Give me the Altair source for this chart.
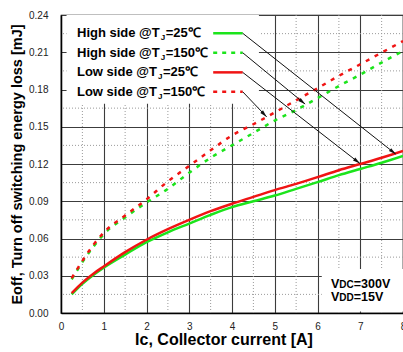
import math
import altair as alt
import pandas as pd

# ---------------- data ----------------
ic = [0.25, 0.5, 0.75, 1, 1.5, 2, 2.5, 3, 3.5, 4, 4.5, 5, 5.5, 6, 6.5, 7, 7.5, 8]
high_25 = [0.015, 0.0235, 0.0305, 0.0365, 0.047, 0.057, 0.065, 0.072, 0.079, 0.0853, 0.090,
           0.0946, 0.100, 0.1054, 0.111, 0.116, 0.121, 0.1265]
high_150 = [0.027, 0.041, 0.053, 0.0635, 0.077, 0.089, 0.100, 0.113, 0.125, 0.135, 0.145,
            0.155, 0.1635, 0.173, 0.1828, 0.192, 0.2017, 0.211]
low_25 = [0.016, 0.0245, 0.0315, 0.0375, 0.049, 0.059, 0.0675, 0.075, 0.082, 0.088, 0.0935,
          0.099, 0.104, 0.1094, 0.115, 0.120, 0.125, 0.1305]
low_150 = [0.028, 0.042, 0.0545, 0.0648, 0.0785, 0.0915, 0.106, 0.1185, 0.131, 0.143, 0.152,
           0.1615, 0.1713, 0.181, 0.191, 0.2003, 0.2097, 0.219]

series_values = [high_25, high_150, low_25, low_150]
legend_main = ["High side @T", "High side @T", "Low side @T", "Low side @T"]
legend_sub = ["J", "J", "J", "J"]
legend_suffix = ["=25\u2103", "=150\u2103", "=25\u2103", "=150\u2103"]
colors = ["#1be41b", "#1be41b", "#f01414", "#f01414"]
dashed = [False, True, False, True]

# arrow targets on the curves (data units)
arrow_end_x = [7.83, 5.71, 6.99, 4.81]
arrow_end_y = [0.128, 0.1683, 0.1205, 0.158]

x_ticks = [0, 1, 2, 3, 4, 5, 6, 7, 8]
y_ticks = [0.00, 0.03, 0.06, 0.09, 0.12, 0.15, 0.18, 0.21, 0.24]
x_minor = [0.5, 1.5, 2.5, 3.5, 4.5, 5.5, 6.5, 7.5]
y_minor = [0.015, 0.045, 0.075, 0.105, 0.135, 0.165, 0.195, 0.225]

x_title = "Ic, Collector current [A]"
y_title = "Eoff, Turn off switching energy loss [mJ]"
cond_main = ["V", "V"]
cond_small = ["DC", "DD"]
cond_rest = ["=300V", "=15V"]

# ---------------- layout ----------------
W, H = 342, 298
XS = W / 8.0
YS = H / 0.24
legend_y = [0.2253, 0.2096, 0.1938, 0.1782]
sample_x0, sample_x1 = 3.56, 4.25
text_x = 0.374
sub_x = [2.335, 2.335, 2.27, 2.27]
suf_x = [2.45, 2.45, 2.385, 2.385]
cond_x = 6.316
cond_y = [0.0201, 0.0093]

xs = alt.Scale(domain=[0, 8], nice=False, zero=False)
ys = alt.Scale(domain=[0, 0.24], nice=False, zero=False)

xaxis = alt.Axis(values=x_ticks, format="d", grid=True, gridColor="#3c3c3c", gridWidth=1.1,
                 domainColor="#000000", domainWidth=1.5, tickSize=0,
                 labelFont="Liberation Sans", labelFontSize=10, labelColor="#222222",
                 labelPadding=8, labelFlush=False,
                 title=x_title, titleFont="Liberation Sans", titleFontSize=16,
                 titleFontWeight="bold", titleColor="#000000", titleX=162.5, titleY=31,
                 titleBaseline="alphabetic", titleAlign="center")
yaxis = alt.Axis(values=y_ticks, format=".2f", grid=True, gridColor="#3c3c3c", gridWidth=1.1,
                 domainColor="#000000", domainWidth=1.5, tickSize=0,
                 labelFont="Liberation Sans", labelFontSize=10, labelColor="#222222",
                 labelPadding=13, labelFlush=False,
                 title=y_title, titleFont="Liberation Sans", titleFontSize=14.5,
                 titleFontWeight="bold", titleColor="#000000", titleX=-40, titleY=149,
                 titleAngle=270, titleBaseline="alphabetic", titleAlign="center")


def X(f):
    return alt.X(f, type="quantitative", scale=xs, axis=xaxis)


def Y(f):
    return alt.Y(f, type="quantitative", scale=ys, axis=yaxis)


layers = []

# minor dotted grid
layers.append(alt.Chart(pd.DataFrame({"v": x_minor})).mark_rule(
    color="#9a9a9a", strokeDash=[1, 2], strokeWidth=1).encode(x=X("v")))
layers.append(alt.Chart(pd.DataFrame({"v": y_minor})).mark_rule(
    color="#9a9a9a", strokeDash=[1, 2], strokeWidth=1).encode(y=Y("v")))

# white boxes behind legend and conditions
boxes = pd.DataFrame({"x0": [0.13, 6.1], "x1": [4.63, 8.0],
                      "y0": [0.1685, 0.0012], "y1": [0.24, 0.0355]})
layers.append(alt.Chart(boxes).mark_rect(color="white").encode(
    x=X("x0"), x2="x1", y=Y("y0"), y2="y1"))

# curves
for vals, col, dsh in zip(series_values, colors, dashed):
    df = pd.DataFrame({"ic": ic, "e": vals})
    kw = dict(color=col, strokeWidth=2.5, interpolate="monotone")
    if dsh:
        kw["strokeDash"] = [4, 6]
    layers.append(alt.Chart(df).mark_line(**kw).encode(x=X("ic"), y=Y("e")))

# legend samples
for ly, col, dsh in zip(legend_y, colors, dashed):
    df = pd.DataFrame({"x": [sample_x0, sample_x1], "y": [ly, ly]})
    kw = dict(color=col, strokeWidth=2.5)
    if dsh:
        kw["strokeDash"] = [4, 5]
    layers.append(alt.Chart(df).mark_line(**kw).encode(x=X("x"), y=Y("y")))

# arrows
rows = []
for ly, ex, ey in zip(legend_y, arrow_end_x, arrow_end_y):
    px1, py1 = sample_x1 * XS, -ly * YS
    px2, py2 = ex * XS, -ey * YS
    dx, dy = px2 - px1, py2 - py1
    L = math.hypot(dx, dy)
    ux, uy = dx / L, dy / L
    ang = math.degrees(math.atan2(ux, -uy)) % 360
    cx, cy = px2 - 3.5 * ux, py2 - 3.5 * uy
    rows.append({"x1": sample_x1, "y1": ly, "x2": ex, "y2": ey,
                 "hx": cx / XS, "hy": -cy / YS, "ang": ang})
arr = pd.DataFrame(rows)
layers.append(alt.Chart(arr).mark_rule(color="#111111", strokeWidth=1).encode(
    x=X("x1"), y=Y("y1"), x2="x2", y2="y2"))
layers.append(alt.Chart(arr).mark_point(
    shape="M0,-1L0.5,1L-0.5,1Z", filled=True, color="#111111", opacity=1, size=55,
    strokeWidth=0).encode(x=X("hx"), y=Y("hy"), angle=alt.Angle("ang:Q", scale=None)))

# legend texts
leg = pd.DataFrame({"main": legend_main, "sub": legend_sub, "suf": legend_suffix,
                    "y": legend_y, "tx": [text_x] * 4, "sx": sub_x, "fx": suf_x})
lfont = "Liberation Sans"
layers.append(alt.Chart(leg).mark_text(align="left", baseline="middle", font=lfont,
                                       fontSize=13, fontWeight="bold", color="#000").encode(
    x=X("tx"), y=Y("y"), text="main"))
layers.append(alt.Chart(leg).mark_text(align="left", baseline="middle", font=lfont,
                                       fontSize=8, fontWeight="bold", color="#000", dy=5).encode(
    x=X("sx"), y=Y("y"), text="sub"))
layers.append(alt.Chart(leg).mark_text(align="left", baseline="middle", font=lfont,
                                       fontSize=13, fontWeight="bold", color="#000").encode(
    x=X("fx"), y=Y("y"), text="suf"))

# conditions text
cond = pd.DataFrame({"a": cond_main, "b": cond_small, "c": cond_rest,
                     "x": [cond_x] * 2, "y": cond_y})
cfont = "Liberation Sans"
layers.append(alt.Chart(cond).mark_text(align="left", baseline="alphabetic", font=cfont,
                                        fontSize=12.5, fontWeight="bold", color="#000").encode(
    x=X("x"), y=Y("y"), text="a"))
layers.append(alt.Chart(cond).mark_text(align="left", baseline="alphabetic", font=cfont,
                                        fontSize=10, fontWeight="bold", color="#000", dx=8.3).encode(
    x=X("x"), y=Y("y"), text="b"))
layers.append(alt.Chart(cond).mark_text(align="left", baseline="alphabetic", font=cfont,
                                        fontSize=12.5, fontWeight="bold", color="#000", dx=22.8).encode(
    x=X("x"), y=Y("y"), text="c"))

chart = alt.layer(*layers).properties(
    width=W, height=H,
    autosize=alt.AutoSizeParams(type="none"),
    padding={"left": 61, "top": 15, "right": 0, "bottom": 39},
    background="white",
).configure_view(stroke="#000000", strokeWidth=1.2)

chart.save("out.html", embed_options={"renderer": "svg", "actions": False})
